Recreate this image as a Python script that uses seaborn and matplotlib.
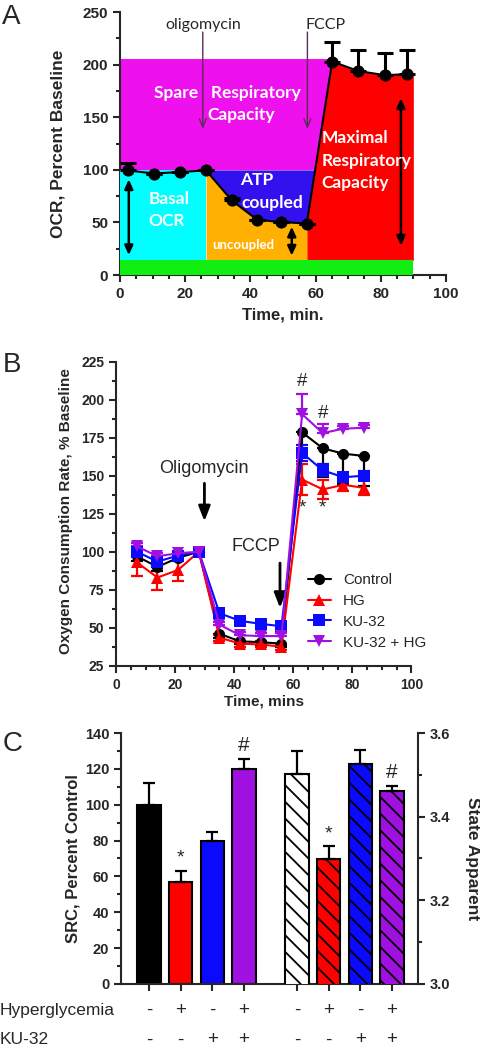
import numpy as np
import pandas as pd
import matplotlib
matplotlib.use('Agg')
import matplotlib.pyplot as plt
from matplotlib.ticker import MultipleLocator
import seaborn as sns

# ── Panel A: idealised mito stress test trace ─────────────────────────────
a_time = [2.6, 10.4, 18.4, 26.4, 34.3, 42.1, 49.4, 57.3, 65.1, 73.1, 81.3, 88.1]
a_ocr = [99.5, 96.5, 98.0, 99.5, 71.0, 52.5, 50.5, 49.0, 203.0, 194.0, 190.0, 191.0]
a_err = [7.5, 0, 0, 0, 2.0, 0, 0, 0, 18.5, 19.5, 21.0, 22.5]
a_floor = 14        # non-mitochondrial band
a_spare_top = 205   # top of spare capacity box
a_end = 90

# ── Panel B: time course ──────────────────────────────────────────────────
b_time = [7, 14, 21, 28, 35, 42, 49, 56, 63, 70, 77, 84]
b_groups = ['Control', 'HG', 'KU-32', 'KU-32 + HG']
b_control = [97, 90, 96, 100, 46, 41, 40.5, 39.5, 178.5, 168, 164.5, 163]
b_hg = [93, 83, 88, 100, 43.5, 39.5, 39, 37.5, 147.5, 141, 144, 142]
b_ku = [100, 93.5, 97.5, 100, 59.5, 54.5, 52.5, 51, 165, 153.5, 149, 150]
b_kuhg = [103.5, 97, 99, 100, 52, 45, 44.5, 44.5, 190.5, 178, 181, 181.5]
b_control_lo = [3, 3, 2, 0, 3, 2, 2, 2, 13, 19, 20, 20]
b_control_hi = [0] * 12
b_hg_lo = [9, 8.5, 7, 0, 2, 2, 2, 2, 10, 6, 4, 5]
b_hg_hi = [9, 8.5, 7, 0, 2, 2, 2, 2, 10, 6, 4, 5]
b_ku_lo = [1, 2, 1, 0, 2, 2, 2, 2, 5, 4, 3, 3]
b_ku_hi = [1, 2, 1, 0, 2, 2, 2, 2, 5, 4, 3, 3]
b_kuhg_lo = [0] * 12
b_kuhg_hi = [2, 2, 1, 0, 2, 2, 2, 2, 13, 6, 2, 2]

# ── Panel C: SRC and state apparent ───────────────────────────────────────
c_groups = ['Control', 'HG', 'KU-32', 'KU-32 + HG']
c_src = [100, 57, 80, 120]
c_src_err = [12, 6, 5, 5.5]
c_state = [3.501, 3.299, 3.527, 3.462]
c_state_err = [0.056, 0.03, 0.033, 0.012]
c_hyper = ['-', '+', '-', '+']
c_ku = ['-', '-', '+', '+']
c_pos_left = [0, 1, 2, 3]
c_pos_right = [4.68, 5.68, 6.68, 7.68]

sns.set_style('ticks')
plt.rcParams['font.family'] = ['Liberation Sans', 'DejaVu Sans']
plt.rcParams['axes.linewidth'] = 1.5
plt.rcParams['hatch.linewidth'] = 1.3
plt.rcParams['hatch.color'] = 'black'

MAGENTA, CYAN, ORANGE = '#EE11EE', '#00FFFF', '#FFB000'
ABLUE, ARED, AGREEN = '#3311EE', '#FF0000', '#11EE11'
RED, BLUE, PURPLE = '#FF0000', '#0A0AFF', '#A010E0'


def style_axis(ax, size):
    ax.tick_params(which='major', length=5, width=1.5, labelsize=size, direction='out')
    ax.tick_params(which='minor', length=3, width=1.5, direction='out')
    plt.setp(ax.get_xticklabels() + ax.get_yticklabels(), fontweight='bold')


fig = plt.figure(figsize=(4.8, 10.5), dpi=100)

# ── A ─────────────────────────────────────────────────────────────────────
ax = fig.add_axes([0.25, 0.738, 0.679, 0.2505])
t = np.array(a_time)
v = np.array(a_ocr)
ax.fill_between([0, t[8]], 100, a_spare_top, color=MAGENTA, lw=0, zorder=1)
xr = np.linspace(t[7], a_end, 200)
ax.fill_between(xr, a_floor, np.interp(xr, t, v), color=ARED, lw=0, zorder=2)
xb = np.linspace(t[3], t[8], 400)
yb = np.interp(xb, t, v)
ax.fill_between(xb, yb, 100, where=yb < 100, interpolate=True, color=ABLUE, lw=0, zorder=2)
xo = np.linspace(t[3], t[7], 200)
ax.fill_between(xo, a_floor, np.interp(xo, t, v), color=ORANGE, lw=0, zorder=3)
ax.fill_between([0, t[3]], a_floor, 100, color=CYAN, lw=0, zorder=3)
ax.fill_between([0, a_end], 0, a_floor, color=AGREEN, lw=0, zorder=3)

sns.lineplot(x=a_time, y=a_ocr, color='black', marker='o', markersize=8,
             markeredgecolor='black', lw=1.5, ax=ax, zorder=6)
ax.errorbar(a_time, a_ocr, yerr=[np.zeros(len(a_err)), a_err], fmt='none',
            ecolor='black', elinewidth=2.2, capsize=6, capthick=2.2, zorder=5)

for x, y1, y2 in [(2.7, 91, 19), (52.7, 46, 18.5), (86.2, 168, 28)]:
    ax.annotate('', xy=(x, y2), xytext=(x, y1), zorder=7,
                arrowprops=dict(arrowstyle='<|-|>,head_width=0.25,head_length=0.55',
                                color='black', lw=1.8, shrinkA=0, shrinkB=0))
for x in [25.4, 57.5]:
    ax.annotate('', xy=(x, 139), xytext=(x, 231), zorder=7,
                arrowprops=dict(arrowstyle='->,head_width=0.25,head_length=0.6',
                                color='#5a2a5a', lw=1.0, shrinkA=0, shrinkB=0))
ax.text(25.6, 238, 'oligomycin', fontsize=11.5, family='Lato', ha='center', va='center')
ax.text(63.2, 238, 'FCCP', fontsize=11.5, family='Lato', ha='center', va='center')

lab = dict(color='white', family='Lato', fontweight='bold', fontsize=12.5, va='center', zorder=8)
ax.text(32.8, 173, 'Spare   Respiratory', ha='center', **lab)
ax.text(37.3, 152, 'Capacity', ha='center', **lab)
ax.text(15.0, 72, 'Basal', ha='center', **lab)
ax.text(14.3, 51, 'OCR', ha='center', **lab)
ax.text(42.0, 90, 'ATP', ha='center', **lab)
ax.text(46.8, 69, 'coupled', ha='center', **lab)
ax.text(61.9, 130, 'Maximal', ha='left', **lab)
ax.text(61.9, 108, 'Respiratory', ha='left', **lab)
ax.text(61.9, 87.5, 'Capacity', ha='left', **lab)
lab['fontsize'] = 9.5
ax.text(37.8, 29, 'uncoupled', ha='center', **lab)

ax.set_xlim(0, 100)
ax.set_ylim(0, 250)
ax.set_xticks(range(0, 101, 20))
ax.set_yticks(range(0, 251, 50))
ax.xaxis.set_minor_locator(MultipleLocator(5))
ax.yaxis.set_minor_locator(MultipleLocator(25))
sns.despine(ax=ax)
style_axis(ax, 11)
ax.set_ylabel('OCR, Percent Baseline', fontsize=12.5, fontweight='bold', va='center')
ax.yaxis.set_label_coords(-0.19, 0.5)
ax.set_xlabel('Time, min.', fontsize=12, fontweight='bold', va='center')
ax.xaxis.set_label_coords(0.5, -0.152)

# ── B ─────────────────────────────────────────────────────────────────────
axb = fig.add_axes([0.242, 0.366, 0.615, 0.2895])
series = [
    ('Control', b_control, b_control_lo, b_control_hi, 'black', 'o'),
    ('HG', b_hg, b_hg_lo, b_hg_hi, RED, '^'),
    ('KU-32', b_ku, b_ku_lo, b_ku_hi, BLUE, 's'),
    ('KU-32 + HG', b_kuhg, b_kuhg_lo, b_kuhg_hi, PURPLE, 'v'),
]
for name, vals, lo, hi, col, mk in series:
    axb.errorbar(b_time, vals, yerr=[lo, hi], fmt='none', ecolor=col,
                 elinewidth=1.6, capsize=4, capthick=1.6, zorder=3)
    sns.lineplot(x=b_time, y=vals, color=col, marker=mk, markersize=8,
                 markeredgecolor=col, markeredgewidth=0, lw=1.5, label=name,
                 ax=axb, zorder=4)
axb.legend(loc='upper left', bbox_to_anchor=(0.65, 0.305), frameon=False,
           fontsize=11, handlelength=1.5, handletextpad=0.8, labelspacing=0.45,
           borderaxespad=0, borderpad=0)

axb.annotate('', xy=(29.9, 120), xytext=(29.9, 145),
             arrowprops=dict(arrowstyle='-|>,head_width=0.35,head_length=0.9',
                             color='black', lw=2, shrinkA=0, shrinkB=0))
axb.text(29.7, 154.5, 'Oligomycin', fontsize=13, ha='center', va='center')
axb.annotate('', xy=(55.5, 63), xytext=(55.5, 92.5),
             arrowprops=dict(arrowstyle='-|>,head_width=0.35,head_length=0.9',
                             color='black', lw=2, shrinkA=0, shrinkB=0))
axb.text(47.2, 103.6, 'FCCP', fontsize=13, ha='center', va='center')
axb.text(63, 212, '#', fontsize=13.5, ha='center', va='center')
axb.text(70, 191, '#', fontsize=13.5, ha='center', va='center')
axb.text(63, 129, '*', fontsize=13.5, ha='center', va='center')
axb.text(70, 128.5, '*', fontsize=13.5, ha='center', va='center')

axb.set_xlim(0, 100)
axb.set_ylim(25, 225)
axb.set_xticks(range(0, 101, 20))
axb.set_yticks(range(25, 226, 25))
axb.xaxis.set_minor_locator(MultipleLocator(5))
axb.yaxis.set_minor_locator(MultipleLocator(12.5))
sns.despine(ax=axb)
style_axis(axb, 10)
axb.set_ylabel('Oxygen Consumption Rate, % Baseline', fontsize=11, fontweight='bold', va='center')
axb.yaxis.set_label_coords(-0.17, 0.51)
axb.set_xlabel('Time, mins', fontsize=11, fontweight='bold', va='center')
axb.xaxis.set_label_coords(0.5, -0.118)

# ── C ─────────────────────────────────────────────────────────────────────
axc = fig.add_axes([0.252, 0.0629, 0.619, 0.239])
axc2 = axc.twinx()
c_fill_left = ['black', RED, BLUE, PURPLE]
c_fill_right = ['white', RED, BLUE, PURPLE]
df_left = pd.DataFrame({'pos': c_pos_left, 'val': c_src, 'group': c_groups})
df_right = pd.DataFrame({'pos': c_pos_right, 'val': c_state, 'group': c_groups})
sns.barplot(data=df_left, x='pos', y='val', hue='group', native_scale=True,
            palette=dict(zip(c_groups, c_fill_left)), width=0.74, errorbar=None,
            saturation=1, edgecolor='black', linewidth=1.5, legend=False, ax=axc)
sns.barplot(data=df_right, x='pos', y='val', hue='group', native_scale=True,
            palette=dict(zip(c_groups, c_fill_right)), width=0.74, errorbar=None,
            saturation=1, edgecolor='black', linewidth=1.5, legend=False, ax=axc2)
for p in axc2.patches:
    p.set_hatch('\\\\')
axc.errorbar(c_pos_left, c_src, yerr=[np.zeros(4), c_src_err], fmt='none',
             ecolor='black', elinewidth=1.6, capsize=4, capthick=1.6, zorder=1)
axc2.errorbar(c_pos_right, c_state, yerr=[np.zeros(4), c_state_err], fmt='none',
              ecolor='black', elinewidth=1.6, capsize=4, capthick=1.6, zorder=1)

axc.annotate('*', (c_pos_left[1], c_src[1] + c_src_err[1]), xytext=(0, 3),
             textcoords='offset points', ha='center', va='bottom', fontsize=14)
axc.annotate('#', (c_pos_left[3], c_src[3] + c_src_err[3]), xytext=(0, 3),
             textcoords='offset points', ha='center', va='bottom', fontsize=15)
axc2.annotate('*', (c_pos_right[1], c_state[1] + c_state_err[1]), xytext=(0, 3),
              textcoords='offset points', ha='center', va='bottom', fontsize=14)
axc2.annotate('#', (c_pos_right[3], c_state[3] + c_state_err[3]), xytext=(0, 3),
              textcoords='offset points', ha='center', va='bottom', fontsize=15)

axc.set_ylim(0, 140)
axc2.set_ylim(3.0, 3.6)
axc.set_yticks(range(0, 141, 20))
axc.yaxis.set_minor_locator(MultipleLocator(10))
axc2.set_yticks([3.0, 3.2, 3.4, 3.6])
axc2.set_yticklabels(['3.0', '3.2', '3.4', '3.6'])
axc2.yaxis.set_minor_locator(MultipleLocator(0.1))
all_pos = c_pos_left + c_pos_right
axc.set_xticks(all_pos)
axc.set_xticklabels([''] * len(all_pos))
axc.set_xlim(-0.89, 8.51)
axc2.set_xlim(-0.89, 8.51)
axc.set_xlabel('')
axc2.set_xlabel('')
for a in (axc, axc2):
    a.spines['top'].set_visible(False)
axc.spines['right'].set_visible(False)
axc2.spines['left'].set_visible(False)
axc2.spines['bottom'].set_visible(False)
style_axis(axc, 10.5)
style_axis(axc2, 10.5)
axc.set_ylabel('SRC, Percent Control', fontsize=12, fontweight='bold', va='center')
axc.yaxis.set_label_coords(-0.162, 0.5)
axc2.set_ylabel('State Apparent', fontsize=12.5, fontweight='bold', va='center', rotation=270)
axc2.yaxis.set_label_coords(1.182, 0.5)

tr = axc.get_xaxis_transform()
for pos, h, k in zip(all_pos, c_hyper + c_hyper, c_ku + c_ku):
    axc.text(pos, -0.104, h, transform=tr, ha='center', va='center', fontsize=13.5)
    axc.text(pos, -0.223, k, transform=tr, ha='center', va='center', fontsize=13.5)
fig.text(0.0, 1 - 1010 / 1050, 'Hyperglycemia', fontsize=12.5, ha='left', va='center')
fig.text(0.0, 1 - 1040 / 1050, 'KU-32', fontsize=12.5, ha='left', va='center')

# ── panel letters ─────────────────────────────────────────────────────────
fig.text(0.005, 1 - 17 / 1050, 'A', fontsize=20, va='center', ha='left')
fig.text(0.005, 1 - 365 / 1050, 'B', fontsize=20, va='center', ha='left')
fig.text(0.005, 1 - 744 / 1050, 'C', fontsize=20, va='center', ha='left')

fig.savefig('out.png', dpi=100)
